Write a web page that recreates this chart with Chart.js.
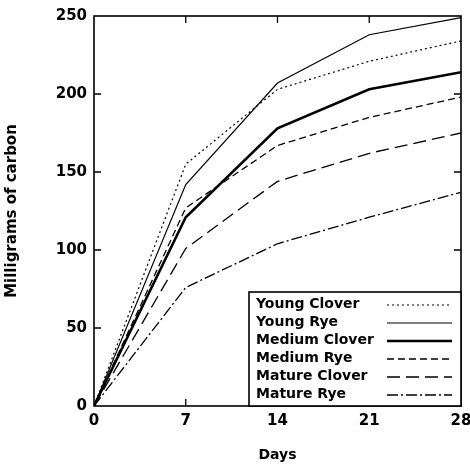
<!DOCTYPE html>
<html>
<head>
<meta charset="utf-8">
<script src="https://cdn.jsdelivr.net/npm/chart.js@4.4.0/dist/chart.umd.min.js"></script>
<style>
  html, body { margin: 0; padding: 0; background: #fff; }
  #wrap { width: 470px; height: 464px; }
</style>
</head>
<body>
<div id="wrap"><canvas id="chartId" width="470" height="464"></canvas></div>
<script>
// days of incubation
var days = [0, 7, 14, 21, 28];
var dayTicks = [0, 7, 14, 21, 28];
var carbonTicks = [0, 50, 100, 150, 200, 250];

// milligrams of carbon evolved
var youngClover = [0, 155, 203, 221, 234];
var youngRye = [0, 142, 207, 238, 249];
var mediumClover = [0, 121, 178, 203, 214];
var mediumRye = [0, 127, 167, 185, 198];
var matureClover = [0, 101, 144, 162, 175];
var matureRye = [0, 76, 104, 121, 137];

var seriesNames = ["Young Clover", "Young Rye", "Medium Clover", "Medium Rye", "Mature Clover", "Mature Rye"];

var FONT = "'DejaVu Sans', sans-serif";

function pts(vals) {
    return vals.map(function (v, i) { return { x: days[i], y: v }; });
}

function ds(label, vals, dash, width) {
    return {
        label: label,
        data: pts(vals),
        borderColor: '#000',
        backgroundColor: '#000',
        borderWidth: width,
        borderDash: dash,
        pointRadius: 0,
        tension: 0,
        fill: false
    };
}

// frame, inward ticks and legend box
var framePlugin = {
    id: 'frame',
    afterDraw: function (chart) {
        var c = chart.ctx, a = chart.chartArea;
        var xs = chart.scales.x, ys = chart.scales.y;
        c.save();
        c.strokeStyle = '#000';
        c.lineWidth = 1.6;
        c.setLineDash([]);
        c.strokeRect(a.left, a.top, a.right - a.left, a.bottom - a.top);
        c.lineWidth = 1.3;
        dayTicks.slice(1, -1).forEach(function (d) {
            var px = xs.getPixelForValue(d);
            c.beginPath();
            c.moveTo(px, a.bottom); c.lineTo(px, a.bottom - 7);
            c.moveTo(px, a.top); c.lineTo(px, a.top + 7);
            c.stroke();
        });
        carbonTicks.slice(1, -1).forEach(function (v) {
            var py = ys.getPixelForValue(v);
            c.beginPath();
            c.moveTo(a.left, py); c.lineTo(a.left + 7, py);
            c.moveTo(a.right, py); c.lineTo(a.right - 7, py);
            c.stroke();
        });

        // legend
        var bx = 249, by = 292, bw = a.right - bx, bh = a.bottom - by;
        c.fillStyle = '#fff';
        c.fillRect(bx, by, bw, bh);
        c.lineWidth = 1.6;
        c.strokeRect(bx, by, bw, bh);
        c.font = 'bold 14px ' + FONT;
        c.textBaseline = 'middle';
        c.fillStyle = '#000';
        chart.data.datasets.forEach(function (d, i) {
            var ry = by + 12 + i * 18;
            c.fillText(d.label, bx + 7, ry);
            c.beginPath();
            c.lineWidth = d.borderWidth;
            c.setLineDash(d.borderDash || []);
            c.moveTo(bx + 138, ry + 1);
            c.lineTo(bx + 203, ry + 1);
            c.stroke();
        });
        c.restore();
    }
};

var chrt = document.getElementById("chartId").getContext("2d");
var chartId = new Chart(chrt, {
    type: 'line',
    data: {
        datasets: [
            ds(seriesNames[0], youngClover, [2, 3], 1.2),
            ds(seriesNames[1], youngRye, [], 1.2),
            ds(seriesNames[2], mediumClover, [], 2.6),
            ds(seriesNames[3], mediumRye, [7, 4], 1.3),
            ds(seriesNames[4], matureClover, [13, 6], 1.3),
            ds(seriesNames[5], matureRye, [11, 3, 2, 3], 1.3)
        ]
    },
    options: {
        responsive: false,
        animation: false,
        layout: { padding: { top: 12, right: 0, left: 0, bottom: 0 } },
        plugins: {
            legend: { display: false },
            tooltip: { enabled: false }
        },
        scales: {
            x: {
                type: 'linear',
                min: 0, max: 28,
                afterBuildTicks: function (s) { s.ticks = dayTicks.map(function (v) { return { value: v }; }); },
                grid: { display: false, drawTicks: false },
                border: { display: false },
                ticks: { color: '#000', font: { family: FONT, size: 15, weight: 'bold' }, padding: 6, maxRotation: 0 },
                title: { display: true, text: 'Days', color: '#000', font: { family: FONT, size: 14, weight: 'bold' }, padding: { top: 14, bottom: 0 } },
                afterFit: function (s) { s.height = 58; s.paddingLeft = 0; s.paddingRight = 9; }
            },
            y: {
                min: 0, max: 250,
                afterBuildTicks: function (s) { s.ticks = carbonTicks.map(function (v) { return { value: v }; }); },
                grid: { display: false, drawTicks: false },
                border: { display: false },
                ticks: { color: '#000', font: { family: FONT, size: 15, weight: 'bold' }, padding: 7 },
                title: { display: true, text: 'Milligrams of carbon', color: '#000', font: { family: FONT, size: 15, weight: 'bold' }, padding: { top: 3, bottom: 0 } },
                afterFit: function (s) { s.width = 94; }
            }
        }
    },
    plugins: [framePlugin]
});
</script>
</body>
</html>
